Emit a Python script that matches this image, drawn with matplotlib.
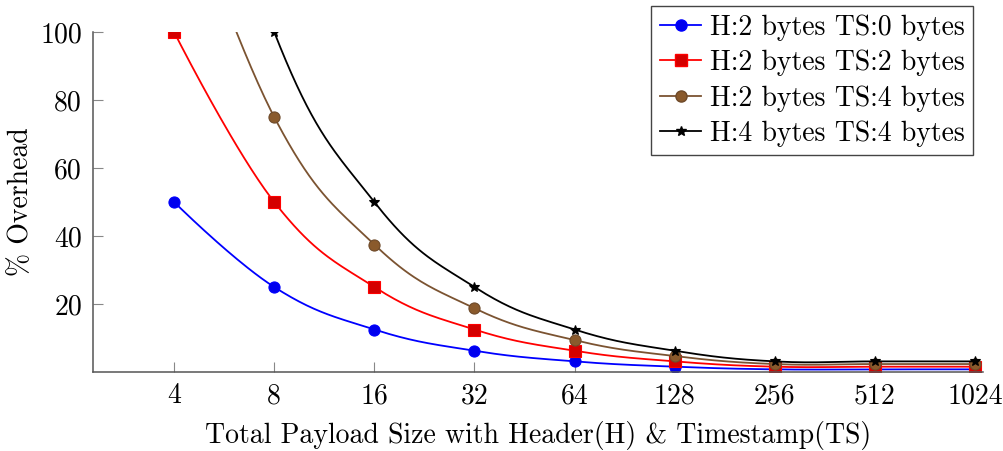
import matplotlib
matplotlib.use("Agg")
import matplotlib.pyplot as plt
import numpy as np

plt.rcParams.update({'font.family': 'cmr10',
                     'font.size': 20,
                     'axes.formatter.use_mathtext': True,
                     'axes.unicode_minus': False,
                     })

payload = [4, 8, 16, 32, 64, 128, 256, 512, 1024]
ts0 = [50, 25, 12.5, 6.25, 3.125, 1.5625, 0.78, 0.78, 0.78]
ts2 = [100, 50, 25, 12.5, 6.25, 3.125, 1.5625, 1.5625, 1.5625]
ts4 = [150, 75, 37.5, 18.75, 9.375, 4.6875, 2.34, 2.34, 2.34]
h4ts4 = [200, 100, 50, 25, 12.5, 6.25, 3.125, 3.125, 3.125]

labels = ["H:2 bytes TS:0 bytes", "H:2 bytes TS:2 bytes",
          "H:2 bytes TS:4 bytes", "H:4 bytes TS:4 bytes"]
series = [ts0, ts2, ts4, h4ts4]
colors = ['#0000ff', '#ff0000', '#7b5331', '#000000']
mfc = ['#0000ee', '#d40000', '#8a5a2c', '#000000']
medge = ['#0000ff', '#ff0000', '#6e4a2a', '#000000']
markers = ['o', 's', 'o', '*']
msizes = [8, 8, 8, 7.5]

# px per unit on screen, used to make the smoothing look like tikz "smooth"
XS, YS = 100.0, 3.4


def smooth(x, y, k=0.2, n=40):
    # cubic bezier through the points, computed in screen-like space
    px = np.log2(x) * XS
    py = np.array(y, dtype=float) * YS
    m = len(px)
    out_x, out_y = [], []
    for i in range(m - 1):
        p0 = np.array([px[i], py[i]])
        p3 = np.array([px[i + 1], py[i + 1]])
        if i == 0:
            c1 = p0
        else:
            c1 = p0 + k * (p3 - np.array([px[i - 1], py[i - 1]]))
        if i + 1 == m - 1:
            c2 = p3
        else:
            c2 = p3 - k * (np.array([px[i + 2], py[i + 2]]) - p0)
        t = np.linspace(0, 1, n)[:, None]
        b = ((1 - t) ** 3) * p0 + 3 * ((1 - t) ** 2) * t * c1 + 3 * (1 - t) * t ** 2 * c2 + t ** 3 * p3
        out_x.append(b[:, 0])
        out_y.append(b[:, 1])
    bx = np.concatenate(out_x)
    by = np.concatenate(out_y)
    return 2 ** (bx / XS), by / YS


fig = plt.figure(figsize=(10.04, 4.51), dpi=100)
ax = fig.add_axes([93 / 1004, 79 / 451, 890 / 1004, 340 / 451])

for s, lab, c, fc, ec, mk, ms in zip(series, labels, colors, mfc, medge, markers, msizes):
    sx, sy = smooth(payload, s)
    ax.plot(sx, sy, '-', color=c, linewidth=1.3)
    ax.plot(payload, s, linestyle='none', marker=mk, markersize=ms,
            markerfacecolor=fc, markeredgecolor=ec, markeredgewidth=0.8)
    ax.plot([], [], '-', color=c, linewidth=1.3, marker=mk, markersize=ms,
            markerfacecolor=fc, markeredgecolor=ec, label=lab)

ax.set_xscale('log', base=2)
ax.set_xlim(4 / 2 ** 0.81, 1024 * 2 ** 0.08)
ax.set_ylim(0, 100)
ax.set_xticks(payload)
ax.set_xticklabels([str(p) for p in payload])
ax.xaxis.set_minor_locator(matplotlib.ticker.NullLocator())
ax.set_yticks([20, 40, 60, 80, 100])
ax.set_yticklabels(['20', '40', '60', '80', '100'])

for side in ['top', 'right']:
    ax.spines[side].set_visible(False)
for side in ['left', 'bottom']:
    ax.spines[side].set_color('#555555')
    ax.spines[side].set_linewidth(1.1)
ax.tick_params(direction='in', length=7, width=0.8, color='#888888', pad=8)

ax.set_xlabel("Total Payload Size with Header(H) & Timestamp(TS)", labelpad=8)
ax.set_ylabel("% Overhead", labelpad=4)

leg = ax.legend(loc='upper right', bbox_to_anchor=(973 / 1004, 1 - 6 / 451),
                bbox_transform=fig.transFigure, fancybox=False, framealpha=1,
                edgecolor='#444444', handlelength=1.5, handletextpad=0.3,
                labelspacing=0.32, borderpad=0.3, borderaxespad=0)
leg.get_frame().set_linewidth(1.0)

fig.savefig('out.png', dpi=100)
